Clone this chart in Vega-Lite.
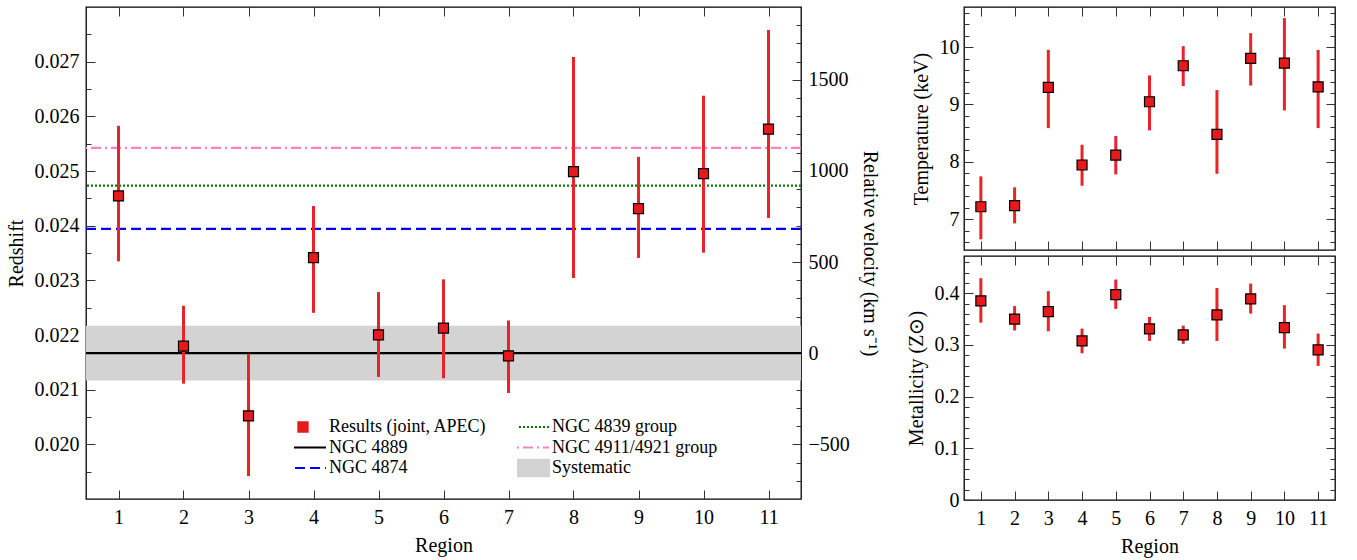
{
  "$schema": "https://vega.github.io/schema/vega-lite/v6.json",
  "padding": {"left": 5, "top": 5, "right": 5, "bottom": 5},
  "datasets": {
    "regions": [
      {"region": 1, "z": 0.024544, "z_lo": 0.023348, "z_hi": 0.025827, "T": 7.215, "T_lo": 6.646, "T_hi": 7.745, "Zm": 0.385, "Zm_lo": 0.343, "Zm_hi": 0.429},
      {"region": 2, "z": 0.021796, "z_lo": 0.02111, "z_hi": 0.022535, "T": 7.233, "T_lo": 6.924, "T_hi": 7.553, "Zm": 0.35, "Zm_lo": 0.328, "Zm_hi": 0.375},
      {"region": 3, "z": 0.020519, "z_lo": 0.019419, "z_hi": 0.021655, "T": 9.297, "T_lo": 8.587, "T_hi": 9.952, "Zm": 0.3645, "Zm_lo": 0.3265, "Zm_hi": 0.404},
      {"region": 4, "z": 0.023414, "z_lo": 0.022406, "z_hi": 0.024361, "T": 7.943, "T_lo": 7.581, "T_hi": 8.297, "Zm": 0.3077, "Zm_lo": 0.2839, "Zm_hi": 0.3316},
      {"region": 5, "z": 0.022003, "z_lo": 0.021233, "z_hi": 0.022785, "T": 8.117, "T_lo": 7.78, "T_hi": 8.448, "Zm": 0.3974, "Zm_lo": 0.3697, "Zm_hi": 0.4265},
      {"region": 6, "z": 0.022126, "z_lo": 0.021209, "z_hi": 0.023018, "T": 9.047, "T_lo": 8.547, "T_hi": 9.506, "Zm": 0.331, "Zm_lo": 0.3077, "Zm_hi": 0.3542},
      {"region": 7, "z": 0.021618, "z_lo": 0.02094, "z_hi": 0.022266, "T": 9.675, "T_lo": 9.32, "T_hi": 10.017, "Zm": 0.3194, "Zm_lo": 0.302, "Zm_hi": 0.3374},
      {"region": 8, "z": 0.02499, "z_lo": 0.023042, "z_hi": 0.027086, "T": 8.478, "T_lo": 7.79, "T_hi": 9.25, "Zm": 0.358, "Zm_lo": 0.3077, "Zm_hi": 0.41},
      {"region": 9, "z": 0.024312, "z_lo": 0.023408, "z_hi": 0.025259, "T": 9.802, "T_lo": 9.33, "T_hi": 10.244, "Zm": 0.389, "Zm_lo": 0.3606, "Zm_hi": 0.4187},
      {"region": 10, "z": 0.024953, "z_lo": 0.023506, "z_hi": 0.026377, "T": 9.721, "T_lo": 8.895, "T_hi": 10.506, "Zm": 0.3335, "Zm_lo": 0.2929, "Zm_hi": 0.3768},
      {"region": 11, "z": 0.025767, "z_lo": 0.024141, "z_hi": 0.027581, "T": 9.308, "T_lo": 8.587, "T_hi": 9.95, "Zm": 0.2903, "Zm_lo": 0.2594, "Zm_hi": 0.3219}
    ],
    "refs": [
      {"series": "NGC 4889", "z": 0.021667},
      {"series": "NGC 4874", "z": 0.02394},
      {"series": "NGC 4839 group", "z": 0.024733},
      {"series": "NGC 4911/4921 group", "z": 0.025424}
    ],
    "band": [
      {"series": "Systematic", "lo": 0.021167, "hi": 0.022167}
    ]
  },
  "spacing": 25,
  "hconcat": [
    {
      "width": 715,
      "height": 492,
      "layer": [
        {
          "data": {"name": "band"},
          "mark": {"type": "rect", "color": "#d3d3d3"},
          "encoding": {
            "y": {"field": "lo", "type": "quantitative", "scale": {"domain": [0.019, 0.028], "nice": false, "zero": false}, "axis": null},
            "y2": {"field": "hi"}
          }
        },
        {
          "data": {"name": "refs"},
          "mark": {"type": "rule", "strokeWidth": 2.2},
          "encoding": {
            "y": {"field": "z", "type": "quantitative", "scale": {"domain": [0.019, 0.028], "nice": false, "zero": false}, "axis": null},
            "color": {
              "field": "series", "type": "nominal",
              "scale": {
                "domain": ["Results (joint, APEC)", "NGC 4889", "NGC 4874", "NGC 4839 group", "NGC 4911/4921 group", "Systematic"],
                "range": ["#e41a1c", "#000000", "#0000ff", "#008000", "#ff80c0", "#d3d3d3"]
              },
              "legend": {
                "title": null,
                "orient": "none",
                "legendX": 208,
                "legendY": 410,
                "columns": 2,
                "padding": 0,
                "symbolSize": 2116,
                "clipHeight": 20,
                "rowPadding": 0.5,
                "columnPadding": 30,
                "labelOffset": 17,
                "labelLimit": 400,
                "labelFont": "Liberation Serif",
                "labelFontSize": 18,
                "labelColor": "black",
                "encode": {
                  "symbols": {
                    "update": {
                      "shape": {"signal": "datum.value == 'Results (joint, APEC)' ? 'M-0.22,-0.22H0.22V0.22H-0.22Z' : (datum.value == 'Systematic' ? 'M-1,-0.35H1V0.35H-1Z' : 'stroke')"},
                      "fill": {"signal": "datum.value == 'Results (joint, APEC)' ? '#e41a1c' : (datum.value == 'Systematic' ? '#d3d3d3' : 'transparent')"},
                      "stroke": {"signal": "datum.value == 'Results (joint, APEC)' ? '#000000' : (datum.value == 'Systematic' ? 'transparent' : (datum.value == 'NGC 4839 group' ? '#008000' : (datum.value == 'NGC 4889' ? '#000000' : (datum.value == 'NGC 4874' ? '#0000ff' : '#ff80c0'))))"},
                      "strokeDash": {"signal": "datum.value == 'NGC 4874' ? [10, 5] : (datum.value == 'NGC 4839 group' ? [2, 2] : (datum.value == 'NGC 4911/4921 group' ? [10, 4, 2, 4] : []))"},
                      "strokeWidth": {"signal": "datum.value == 'Results (joint, APEC)' ? 1.2 : 2.2"},
                      "opacity": {"value": 1}
                    }
                  }
                }
              }
            },
            "strokeDash": {
              "field": "series", "type": "nominal",
              "scale": {
                "domain": ["NGC 4889", "NGC 4874", "NGC 4839 group", "NGC 4911/4921 group"],
                "range": [[1, 0], [10, 5], [2, 2], [10, 4, 2, 4]]
              },
              "legend": null
            }
          }
        },
        {
          "data": {"name": "regions"},
          "mark": {"type": "rule", "color": "#e8232a", "strokeWidth": 3},
          "encoding": {
            "x": {"field": "region", "type": "quantitative", "scale": {"domain": [0.5, 11.5], "nice": false, "zero": false},
              "axis": {"orient": "bottom", "values": [1, 2, 3, 4, 5, 6, 7, 8, 9, 10, 11], "tickSize": -9, "labelPadding": 17, "title": "Region", "titlePadding": 8}},
            "y": {"field": "z_lo", "type": "quantitative", "scale": {"domain": [0.019, 0.028], "nice": false, "zero": false},
              "axis": {"orient": "left", "values": [0.020, 0.021, 0.022, 0.023, 0.024, 0.025, 0.026, 0.027], "format": ".3f", "tickSize": -9, "labelPadding": 16, "title": "Redshift", "titlePadding": 8}},
            "y2": {"field": "z_hi"}
          }
        },
        {
          "data": {"name": "regions"},
          "mark": {"type": "point", "shape": "square", "filled": true, "fill": "#e41a1c", "stroke": "#000000", "strokeWidth": 1.2, "size": 100, "opacity": 1},
          "encoding": {
            "x": {"field": "region", "type": "quantitative", "scale": {"domain": [0.5, 11.5], "nice": false, "zero": false},
              "axis": {"orient": "top", "values": [1, 2, 3, 4, 5, 6, 7, 8, 9, 10, 11], "tickSize": -9, "labels": false, "title": null}},
            "y": {"field": "z", "type": "quantitative", "scale": {"domain": [0.019, 0.028], "nice": false, "zero": false},
              "axis": {"orient": "left", "values": [0.0195, 0.0205, 0.0215, 0.0225, 0.0235, 0.0245, 0.0255, 0.0265, 0.0275], "tickSize": -5, "labels": false, "title": null}}
          }
        },
        {
          "data": {"name": "regions"},
          "mark": {"type": "point", "opacity": 0},
          "encoding": {
            "x": {"field": "region", "type": "quantitative", "scale": {"domain": [0.5, 11.5], "nice": false, "zero": false}, "axis": null},
            "y": {"field": "z", "type": "quantitative", "scale": {"domain": [-800, 1899], "nice": false, "zero": false},
              "axis": {"orient": "right", "values": [-500, 0, 500, 1000, 1500], "format": "d", "tickSize": -9, "labelPadding": 16, "title": "Relative velocity (km s⁻¹)", "titlePadding": 10}}
          }
        },
        {
          "data": {"name": "regions"},
          "mark": {"type": "point", "opacity": 0},
          "encoding": {
            "x": {"field": "region", "type": "quantitative", "scale": {"domain": [0.5, 11.5], "nice": false, "zero": false}, "axis": null},
            "y": {"field": "z", "type": "quantitative", "scale": {"domain": [-800, 1899], "nice": false, "zero": false},
              "axis": {"orient": "right", "values": [-700, -600, -400, -300, -200, -100, 100, 200, 300, 400, 600, 700, 800, 900, 1100, 1200, 1300, 1400, 1600, 1700, 1800], "tickSize": -5, "labels": false, "title": null}}
          }
        }
      ],
      "resolve": {"scale": {"y": "independent"}, "axis": {"x": "independent", "y": "independent"}}
    },
    {
      "spacing": 2,
      "vconcat": [
        {
          "width": 371,
          "height": 243,
          "data": {"name": "regions"},
          "layer": [
            {
              "mark": {"type": "rule", "color": "#e8232a", "strokeWidth": 3},
              "encoding": {
                "x": {"field": "region", "type": "quantitative", "scale": {"domain": [0.5, 11.5], "nice": false, "zero": false},
                  "axis": {"orient": "bottom", "values": [1, 2, 3, 4, 5, 6, 7, 8, 9, 10, 11], "tickSize": -9, "labels": false, "title": null}},
                "y": {"field": "T_lo", "type": "quantitative", "scale": {"domain": [6.46, 10.7], "nice": false, "zero": false},
                  "axis": {"orient": "left", "values": [7, 8, 9, 10], "format": "d", "tickSize": -9, "labelPadding": 14, "title": "Temperature (keV)", "titlePadding": 8}},
                "y2": {"field": "T_hi"}
              }
            },
            {
              "mark": {"type": "point", "shape": "square", "filled": true, "fill": "#e41a1c", "stroke": "#000000", "strokeWidth": 1.2, "size": 100, "opacity": 1},
              "encoding": {
                "x": {"field": "region", "type": "quantitative", "scale": {"domain": [0.5, 11.5], "nice": false, "zero": false},
                  "axis": {"orient": "top", "values": [1, 2, 3, 4, 5, 6, 7, 8, 9, 10, 11], "tickSize": -9, "labels": false, "title": null}},
                "y": {"field": "T", "type": "quantitative", "scale": {"domain": [6.46, 10.7], "nice": false, "zero": false},
                  "axis": {"orient": "left", "values": [6.6, 6.8, 7.2, 7.4, 7.6, 7.8, 8.2, 8.4, 8.6, 8.8, 9.2, 9.4, 9.6, 9.8, 10.2, 10.4, 10.6], "tickSize": -5, "labels": false, "title": null}}
              }
            },
            {
              "mark": {"type": "point", "opacity": 0},
              "encoding": {
                "x": {"field": "region", "type": "quantitative", "scale": {"domain": [0.5, 11.5], "nice": false, "zero": false}, "axis": null},
                "y": {"field": "T", "type": "quantitative", "scale": {"domain": [6.46, 10.7], "nice": false, "zero": false},
                  "axis": {"orient": "right", "values": [7, 8, 9, 10], "tickSize": -9, "labels": false, "title": null}}
              }
            },
            {
              "mark": {"type": "point", "opacity": 0},
              "encoding": {
                "x": {"field": "region", "type": "quantitative", "scale": {"domain": [0.5, 11.5], "nice": false, "zero": false}, "axis": null},
                "y": {"field": "T", "type": "quantitative", "scale": {"domain": [6.46, 10.7], "nice": false, "zero": false},
                  "axis": {"orient": "right", "values": [6.6, 6.8, 7.2, 7.4, 7.6, 7.8, 8.2, 8.4, 8.6, 8.8, 9.2, 9.4, 9.6, 9.8, 10.2, 10.4, 10.6], "tickSize": -5, "labels": false, "title": null}}
              }
            }
          ],
          "resolve": {"axis": {"x": "independent", "y": "independent"}}
        },
        {
          "width": 371,
          "height": 244,
          "data": {"name": "regions"},
          "layer": [
            {
              "mark": {"type": "rule", "color": "#e8232a", "strokeWidth": 3},
              "encoding": {
                "x": {"field": "region", "type": "quantitative", "scale": {"domain": [0.5, 11.5], "nice": false, "zero": false},
                  "axis": {"orient": "bottom", "values": [1, 2, 3, 4, 5, 6, 7, 8, 9, 10, 11], "tickSize": -9, "labelPadding": 17, "title": "Region", "titlePadding": 8}},
                "y": {"field": "Zm_lo", "type": "quantitative", "scale": {"domain": [0, 0.472], "nice": false, "zero": false},
                  "axis": {"orient": "left", "values": [0, 0.1, 0.2, 0.3, 0.4], "format": "~g", "tickSize": -9, "labelPadding": 14, "title": "Metallicity (Z⊙)", "titlePadding": 8}},
                "y2": {"field": "Zm_hi"}
              }
            },
            {
              "mark": {"type": "point", "shape": "square", "filled": true, "fill": "#e41a1c", "stroke": "#000000", "strokeWidth": 1.2, "size": 100, "opacity": 1},
              "encoding": {
                "x": {"field": "region", "type": "quantitative", "scale": {"domain": [0.5, 11.5], "nice": false, "zero": false},
                  "axis": {"orient": "top", "values": [1, 2, 3, 4, 5, 6, 7, 8, 9, 10, 11], "tickSize": -9, "labels": false, "title": null}},
                "y": {"field": "Zm", "type": "quantitative", "scale": {"domain": [0, 0.472], "nice": false, "zero": false},
                  "axis": {"orient": "left", "values": [0.02, 0.04, 0.06, 0.08, 0.12, 0.14, 0.16, 0.18, 0.22, 0.24, 0.26, 0.28, 0.32, 0.34, 0.36, 0.38, 0.42, 0.44, 0.46], "tickSize": -5, "labels": false, "title": null}}
              }
            },
            {
              "mark": {"type": "point", "opacity": 0},
              "encoding": {
                "x": {"field": "region", "type": "quantitative", "scale": {"domain": [0.5, 11.5], "nice": false, "zero": false}, "axis": null},
                "y": {"field": "Zm", "type": "quantitative", "scale": {"domain": [0, 0.472], "nice": false, "zero": false},
                  "axis": {"orient": "right", "values": [0, 0.1, 0.2, 0.3, 0.4], "tickSize": -9, "labels": false, "title": null}}
              }
            },
            {
              "mark": {"type": "point", "opacity": 0},
              "encoding": {
                "x": {"field": "region", "type": "quantitative", "scale": {"domain": [0.5, 11.5], "nice": false, "zero": false}, "axis": null},
                "y": {"field": "Zm", "type": "quantitative", "scale": {"domain": [0, 0.472], "nice": false, "zero": false},
                  "axis": {"orient": "right", "values": [0.02, 0.04, 0.06, 0.08, 0.12, 0.14, 0.16, 0.18, 0.22, 0.24, 0.26, 0.28, 0.32, 0.34, 0.36, 0.38, 0.42, 0.44, 0.46], "tickSize": -5, "labels": false, "title": null}}
              }
            }
          ],
          "resolve": {"axis": {"x": "independent", "y": "independent"}}
        }
      ]
    }
  ],
  "config": {
    "font": "Liberation Serif",
    "background": "white",
    "view": {"stroke": "#000000", "strokeWidth": 1.3},
    "axis": {
      "grid": false,
      "domain": false,
      "tickColor": "#333333",
      "tickWidth": 1,
      "labelFont": "Liberation Serif",
      "labelFontSize": 20,
      "labelColor": "#000000",
      "labelFlush": false,
      "labelOverlap": false,
      "titleFont": "Liberation Serif",
      "titleFontSize": 20,
      "titleFontWeight": "normal",
      "titleColor": "#000000"
    }
  }
}
